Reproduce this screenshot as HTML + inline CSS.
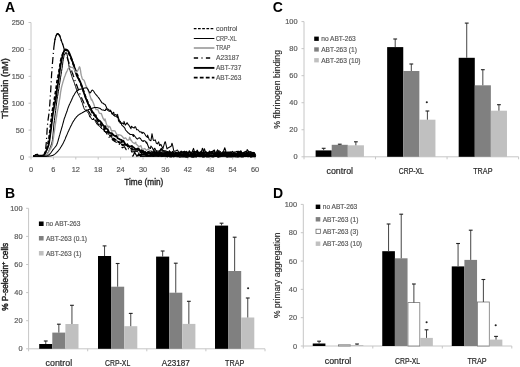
<!DOCTYPE html>
<html><head><meta charset="utf-8"><style>
html,body{margin:0;padding:0;background:#fff;width:520px;height:367px;overflow:hidden}
svg{display:block;will-change:transform}
text{font-family:"Liberation Sans", sans-serif}
</style></head><body>
<svg width="520" height="367" viewBox="0 0 520 367" font-family='"Liberation Sans", sans-serif'>
<rect width="520" height="367" fill="#fff"/>
<text x="5.00" y="12.02" font-size="14.0" fill="#000" font-weight="bold">A</text>
<text x="5.10" y="197.92" font-size="14.0" fill="#000" font-weight="bold">B</text>
<text x="272.80" y="12.02" font-size="14.0" fill="#000" font-weight="bold">C</text>
<text x="273.10" y="198.12" font-size="14.0" fill="#000" font-weight="bold">D</text>
<line x1="31.00" y1="157.00" x2="31.00" y2="22.50" stroke="#c6c6c6" stroke-width="1" />
<line x1="28.50" y1="157.00" x2="31.00" y2="157.00" stroke="#c6c6c6" stroke-width="1" />
<text x="24.00" y="159.65" font-size="7.4" fill="#595959" text-anchor="end" stroke="#595959" stroke-width="0.18">0</text>
<line x1="28.50" y1="130.10" x2="31.00" y2="130.10" stroke="#c6c6c6" stroke-width="1" />
<text x="24.00" y="132.75" font-size="7.4" fill="#595959" text-anchor="end" stroke="#595959" stroke-width="0.18">50</text>
<line x1="28.50" y1="103.20" x2="31.00" y2="103.20" stroke="#c6c6c6" stroke-width="1" />
<text x="24.00" y="105.85" font-size="7.4" fill="#595959" text-anchor="end" stroke="#595959" stroke-width="0.18">100</text>
<line x1="28.50" y1="76.30" x2="31.00" y2="76.30" stroke="#c6c6c6" stroke-width="1" />
<text x="24.00" y="78.95" font-size="7.4" fill="#595959" text-anchor="end" stroke="#595959" stroke-width="0.18">150</text>
<line x1="28.50" y1="49.40" x2="31.00" y2="49.40" stroke="#c6c6c6" stroke-width="1" />
<text x="24.00" y="52.05" font-size="7.4" fill="#595959" text-anchor="end" stroke="#595959" stroke-width="0.18">200</text>
<line x1="28.50" y1="22.50" x2="31.00" y2="22.50" stroke="#c6c6c6" stroke-width="1" />
<text x="24.00" y="25.15" font-size="7.4" fill="#595959" text-anchor="end" stroke="#595959" stroke-width="0.18">250</text>
<line x1="31.00" y1="157.00" x2="255.00" y2="157.00" stroke="#c6c6c6" stroke-width="1" />
<line x1="31.00" y1="157.00" x2="31.00" y2="159.50" stroke="#c6c6c6" stroke-width="1" />
<text x="31.00" y="172.15" font-size="7.4" fill="#595959" text-anchor="middle" stroke="#595959" stroke-width="0.18">0</text>
<line x1="53.40" y1="157.00" x2="53.40" y2="159.50" stroke="#c6c6c6" stroke-width="1" />
<text x="53.40" y="172.15" font-size="7.4" fill="#595959" text-anchor="middle" stroke="#595959" stroke-width="0.18">6</text>
<line x1="75.80" y1="157.00" x2="75.80" y2="159.50" stroke="#c6c6c6" stroke-width="1" />
<text x="75.80" y="172.15" font-size="7.4" fill="#595959" text-anchor="middle" stroke="#595959" stroke-width="0.18">12</text>
<line x1="98.20" y1="157.00" x2="98.20" y2="159.50" stroke="#c6c6c6" stroke-width="1" />
<text x="98.20" y="172.15" font-size="7.4" fill="#595959" text-anchor="middle" stroke="#595959" stroke-width="0.18">18</text>
<line x1="120.60" y1="157.00" x2="120.60" y2="159.50" stroke="#c6c6c6" stroke-width="1" />
<text x="120.60" y="172.15" font-size="7.4" fill="#595959" text-anchor="middle" stroke="#595959" stroke-width="0.18">24</text>
<line x1="143.00" y1="157.00" x2="143.00" y2="159.50" stroke="#c6c6c6" stroke-width="1" />
<text x="143.00" y="172.15" font-size="7.4" fill="#595959" text-anchor="middle" stroke="#595959" stroke-width="0.18">30</text>
<line x1="165.40" y1="157.00" x2="165.40" y2="159.50" stroke="#c6c6c6" stroke-width="1" />
<text x="165.40" y="172.15" font-size="7.4" fill="#595959" text-anchor="middle" stroke="#595959" stroke-width="0.18">36</text>
<line x1="187.80" y1="157.00" x2="187.80" y2="159.50" stroke="#c6c6c6" stroke-width="1" />
<text x="187.80" y="172.15" font-size="7.4" fill="#595959" text-anchor="middle" stroke="#595959" stroke-width="0.18">42</text>
<line x1="210.20" y1="157.00" x2="210.20" y2="159.50" stroke="#c6c6c6" stroke-width="1" />
<text x="210.20" y="172.15" font-size="7.4" fill="#595959" text-anchor="middle" stroke="#595959" stroke-width="0.18">48</text>
<line x1="232.60" y1="157.00" x2="232.60" y2="159.50" stroke="#c6c6c6" stroke-width="1" />
<text x="232.60" y="172.15" font-size="7.4" fill="#595959" text-anchor="middle" stroke="#595959" stroke-width="0.18">54</text>
<line x1="255.00" y1="157.00" x2="255.00" y2="159.50" stroke="#c6c6c6" stroke-width="1" />
<text x="255.00" y="172.15" font-size="7.4" fill="#595959" text-anchor="middle" stroke="#595959" stroke-width="0.18">60</text>
<text x="143.8" y="184.6" font-size="8.25" fill="#222" text-anchor="middle" stroke="#222" stroke-width="0.32">Time (min)</text>
<text transform="translate(7.9,88.4) rotate(-90) scale(1.04,1)" font-size="8.9" fill="#222" text-anchor="middle" stroke="#222" stroke-width="0.38">Thrombin (nM)</text>
<line x1="193.80" y1="28.70" x2="214.40" y2="28.70" stroke="#000" stroke-width="1.25" stroke-dasharray="2.7,1.5"/>
<text transform="translate(216.00,30.97) scale(1.039,1.000)" font-size="6.9" fill="#595959" stroke="#595959" stroke-width="0.18">control</text>
<line x1="193.80" y1="38.50" x2="214.40" y2="38.50" stroke="#000" stroke-width="1.0" />
<text transform="translate(216.00,40.67) scale(0.816,1.000)" font-size="6.9" fill="#595959" stroke="#595959" stroke-width="0.18">CRP-XL</text>
<line x1="193.80" y1="48.00" x2="214.40" y2="48.00" stroke="#a4a4a4" stroke-width="1.8" />
<text transform="translate(216.00,50.47) scale(0.788,1.000)" font-size="6.9" fill="#595959" stroke="#595959" stroke-width="0.18">TRAP</text>
<line x1="193.80" y1="58.00" x2="211.00" y2="58.00" stroke="#000" stroke-width="1.4" stroke-dasharray="4.3,3.4,1.0,3.4"/>
<text transform="translate(216.00,60.47) scale(0.974,1.000)" font-size="6.9" fill="#595959" stroke="#595959" stroke-width="0.18">A23187</text>
<line x1="193.80" y1="67.90" x2="214.40" y2="67.90" stroke="#000" stroke-width="1.9" />
<text transform="translate(216.00,70.07) scale(0.946,1.000)" font-size="6.9" fill="#595959" stroke="#595959" stroke-width="0.18">ABT-737</text>
<line x1="193.80" y1="77.60" x2="214.40" y2="77.60" stroke="#000" stroke-width="1.9" stroke-dasharray="3.8,2.2"/>
<text transform="translate(216.00,79.87) scale(0.946,1.000)" font-size="6.9" fill="#595959" stroke="#595959" stroke-width="0.18">ABT-263</text>
<polyline points="33.2,156.2 33.6,156.2 34.1,156.2 34.5,156.2 35.0,156.2 35.5,156.2 35.9,156.2 36.4,156.2 36.8,156.2 37.2,156.2 37.7,156.2 38.1,156.2 38.6,156.2 39.0,156.2 39.5,156.2 40.0,156.2 40.4,156.2 40.9,156.2 41.3,156.2 41.8,156.2 42.2,156.2 42.6,156.2 43.1,156.2 43.5,156.0 44.0,155.6 44.5,155.1 44.9,153.8 45.4,151.1 45.8,147.6 46.2,143.5 46.7,137.0 47.1,129.6 47.6,124.0 48.0,120.1 48.5,116.8 49.0,113.3 49.4,108.9 49.9,103.0 50.3,96.2 50.8,89.2 51.2,81.7 51.6,74.2 52.1,68.0 52.5,62.6 53.0,57.0 53.5,51.4 53.9,46.8 54.4,43.4 54.8,40.6 55.2,38.4 55.7,36.9 56.1,35.7 56.6,34.7 57.0,34.0 57.5,33.7 58.0,33.8 58.4,34.2 58.9,34.7 59.3,35.2 59.8,35.9 60.2,37.0 60.6,38.4 61.1,39.8 61.5,41.1 62.0,42.4 62.5,43.6 62.9,44.9 63.4,46.3 63.8,47.8 64.2,49.2 64.7,50.6 65.2,51.9 65.6,53.1 66.0,54.3 66.5,55.6 67.0,56.9 67.4,58.2 67.8,59.5 68.3,60.9 68.8,62.2 69.2,63.6 69.7,65.0 70.1,66.3 70.5,67.6 71.0,68.9 71.5,70.2 71.9,71.5 72.3,72.7 72.8,74.0 73.2,75.3 73.7,76.6 74.2,77.9 74.6,79.2 75.0,80.5 75.5,81.8 76.0,83.1 76.4,84.3 76.8,85.6 77.3,86.8 77.8,88.1 78.2,89.3 78.7,90.5 79.1,91.7 79.5,92.9 80.0,94.1 80.5,95.2 80.9,96.3 81.3,97.3 81.8,98.3 82.2,99.3 82.7,100.3 83.2,101.3 83.6,102.2 84.0,103.1 84.5,104.0 85.0,104.9 85.4,105.8 85.8,106.6 86.3,107.4 86.8,108.2 87.2,109.0 87.7,109.7 88.1,110.5 88.5,111.2 89.0,111.9 89.5,112.6 89.9,113.3 90.3,114.0 90.8,114.7 91.2,115.4 91.7,116.1 92.0,116.2 93.4,118.3 95.0,120.9 95.1,120.0 96.4,121.0 98.5,124.7 99.8,124.4 100.0,126.1 101.1,127.1 102.6,127.0 104.5,131.5 105.8,131.8 107.6,135.1 107.7,136.1 109.0,137.2 110.9,136.9 112.8,140.1 113.1,139.8 114.4,141.2 115.8,142.0 117.4,142.6 118.5,142.7 119.0,144.0 120.7,144.9 122.3,147.8 124.5,146.7 126.2,149.6 126.2,148.4 127.7,149.1 129.2,148.4 130.4,149.0 131.9,152.0 134.0,151.7 135.0,150.6 135.5,151.9 137.3,152.6 138.5,153.3 140.1,151.4 141.6,152.8 142.8,151.9 144.5,153.8 146.2,155.2 147.7,152.8 149.9,153.3 150.0,154.2 151.9,153.3 153.2,156.2 155.2,153.7 156.7,155.4 158.8,155.8 160.3,154.6 162.1,154.5 163.3,154.9 164.8,154.8 166.3,156.2 167.7,154.8 169.4,156.3 170.0,155.6 171.0,155.1 173.0,155.8 174.8,155.5 176.9,156.6 178.6,156.6 180.7,156.6 182.4,156.6 183.8,156.0 185.0,156.6 187.0,156.6 188.5,155.4 190.5,156.5 191.8,156.6 193.2,155.5 194.8,156.6 196.8,156.6 198.1,156.6 199.4,156.1 201.0,155.4 202.6,156.6 204.1,156.6 206.2,156.4 208.4,156.5 210.6,156.6 212.0,155.4 213.5,156.6 215.4,155.2 217.3,156.6 219.1,156.6 220.4,155.0 221.8,154.9 223.4,156.6 225.2,155.6 226.9,156.5 229.1,156.3 230.9,155.6 232.6,155.1 234.4,155.6 236.3,155.0 237.8,156.6 239.7,156.0 241.3,156.1 243.3,156.6 244.6,156.6 246.7,156.0 248.1,155.9 249.4,156.6 251.6,156.6 253.3,155.1 255.1,156.6 255.4,155.9" fill="none" stroke="#000" stroke-width="1.25" stroke-linejoin="round" stroke-dasharray="7,3,1.2,3" stroke-dashoffset="10.39"/>
<polyline points="54.4,43.4 54.8,40.6 55.2,38.4 55.7,36.9 56.1,35.7 56.6,34.7 57.0,34.0 57.5,33.7 58.0,33.8 58.4,34.2 58.9,34.7 59.3,35.2 59.8,35.9 60.2,37.0 60.6,38.4 61.1,39.8 61.5,41.1 62.0,42.4 62.5,43.6 62.9,44.9" fill="none" stroke="#000" stroke-width="1.25" stroke-linejoin="round"/>
<polyline points="33.2,156.1 33.6,156.0 34.1,156.0 34.5,156.0 35.0,156.0 35.5,155.9 35.9,155.9 36.4,155.9 36.8,155.9 37.2,155.8 37.7,155.8 38.1,155.8 38.6,155.8 39.0,155.8 39.5,155.7 40.0,155.7 40.4,155.7 40.9,155.7 41.3,155.7 41.8,155.6 42.2,155.6 42.6,155.6 43.1,155.5 43.5,155.5 44.0,155.2 44.5,154.6 44.9,153.8 45.4,152.8 45.8,151.9 46.2,151.0 46.7,150.1 47.1,149.2 47.6,148.1 48.0,146.8 48.5,145.4 49.0,143.4 49.4,140.7 49.9,137.6 50.3,134.2 50.8,130.9 51.2,127.4 51.6,123.8 52.1,120.3 52.5,116.7 53.0,113.3 53.5,110.3 53.9,107.8 54.4,105.6 54.8,103.6 55.2,101.5 55.7,99.2 56.1,96.3 56.6,92.7 57.0,89.1 57.5,86.1 58.0,83.4 58.4,80.7 58.9,77.5 59.3,73.9 59.8,70.5 60.2,67.6 60.6,65.0 61.1,62.5 61.5,60.2 62.0,58.0 62.5,55.9 62.9,54.1 63.4,52.8 63.8,51.8 64.2,50.8 64.7,50.0 65.2,49.5 65.6,49.4 66.0,49.5 66.5,49.7 67.0,49.9 67.4,50.2 67.8,50.6 68.3,51.3 68.8,52.1 69.2,53.0 69.7,54.0 70.1,55.0 70.5,56.0 71.0,57.2 71.5,58.5 71.9,59.7 72.3,61.0 72.8,62.2 73.2,63.6 73.7,64.9 74.2,66.5 74.6,68.3 75.0,70.1 75.5,71.8 76.0,73.2 76.4,74.5 76.8,75.6 77.3,76.6 77.8,77.5 78.2,78.3 78.7,79.0 79.1,79.7 79.5,80.6 80.0,81.5 80.5,82.5 80.9,83.5 81.3,84.6 81.8,85.9 82.2,87.3 82.7,88.7 83.2,90.2 83.6,91.6 84.0,93.1 84.5,94.4 85.0,95.7 85.4,96.9 85.8,98.1 86.3,99.3 86.8,100.4 87.2,101.5 87.7,102.5 88.0,103.7 89.3,106.2 89.7,106.5 91.7,110.7 92.3,112.6 93.2,112.3 94.5,114.9 95.8,115.3 96.0,116.9 98.0,119.8 99.8,120.9 100.0,121.0 101.3,122.6 102.8,124.9 104.6,126.6 105.5,126.2 105.9,128.5 107.7,129.3 109.0,132.4 110.3,133.0 110.9,133.2 111.8,133.1 113.7,135.3 115.7,136.4 116.4,135.4 117.7,138.3 119.7,139.3 121.7,140.1 121.8,142.2 123.3,140.8 125.3,144.3 126.6,145.3 127.3,144.1 128.7,146.4 130.7,146.3 132.0,146.0 132.7,147.1 133.3,147.1 135.2,148.8 136.8,149.1 138.3,148.4 140.0,150.3 140.5,152.2 141.9,149.9 144.0,151.7 145.2,152.8 146.9,152.9 148.7,152.3 150.0,152.4 150.2,154.2 152.1,153.7 153.7,152.9 155.0,154.2 156.9,153.1 158.5,154.1 159.8,154.8 161.7,155.7 163.5,155.2 164.8,155.5 165.0,153.7 166.4,154.8 168.1,154.3 170.0,154.3 172.1,155.3 173.8,156.6 175.5,155.3 176.9,155.8 178.4,156.0 179.9,156.6 181.5,156.6 183.1,156.5 184.5,156.6 185.0,156.6 186.6,156.6 187.9,156.6 189.9,155.3 191.3,154.7 193.5,156.6 195.2,156.1 196.8,154.8 199.0,154.9 200.8,155.7 202.7,156.6 204.4,156.5 206.6,155.0 208.4,156.0 210.5,156.2 212.5,156.6 213.7,156.0 215.4,156.0 217.3,154.6 218.7,156.6 219.9,155.2 221.9,155.8 223.6,154.8 225.3,155.5 226.5,156.6 228.0,156.6 230.0,156.6 231.9,156.3 233.4,156.4 234.9,156.1 236.3,156.6 237.8,156.6 239.8,155.7 241.7,156.3 243.2,156.6 245.1,155.0 247.0,155.5 248.6,154.8 250.7,156.6 252.8,156.2 254.9,154.8 255.4,156.3" fill="none" stroke="#000" stroke-width="1.8" stroke-linejoin="round"/>
<polyline points="33.2,156.2 33.6,156.2 34.1,156.2 34.5,156.2 35.0,156.2 35.5,156.2 35.9,156.2 36.4,156.2 36.8,156.2 37.2,156.2 37.7,156.2 38.1,156.2 38.6,156.2 39.0,156.2 39.5,156.2 40.0,156.2 40.4,156.2 40.9,156.1 41.3,156.1 41.8,155.9 42.2,155.8 42.6,155.6 43.1,155.5 43.5,155.1 44.0,154.6 44.5,153.9 44.9,153.1 45.4,152.3 45.8,151.4 46.2,150.3 46.7,149.0 47.1,147.5 47.6,145.8 48.0,143.8 48.5,141.3 49.0,138.3 49.4,135.0 49.9,131.6 50.3,127.6 50.8,123.8 51.2,120.2 51.6,116.7 52.1,113.5 52.5,110.3 53.0,107.4 53.5,104.7 53.9,102.1 54.4,99.5 54.8,96.8 55.2,94.0 55.7,91.3 56.1,88.3 56.6,85.1 57.0,81.7 57.5,78.8 58.0,76.5 58.4,74.4 58.9,71.9 59.3,69.2 59.8,66.5 60.2,63.8 60.6,61.1 61.1,58.9 61.5,57.2 62.0,55.8 62.5,54.5 62.9,53.5 63.4,52.5 63.8,51.5 64.2,50.6 64.7,50.1 65.2,50.0 65.6,50.1 66.0,50.3 66.5,50.5 67.0,50.7 67.4,51.2 67.8,51.9 68.3,52.7 68.8,53.5 69.2,54.4 69.7,55.3 70.1,56.2 70.5,57.2 71.0,58.3 71.5,59.4 71.9,60.5 72.3,61.6 72.8,62.8 73.2,63.9 73.7,65.1 74.2,66.4 74.6,67.6 75.0,68.8 75.5,70.0 76.0,71.2 76.4,72.3 76.8,73.5 77.3,74.6 77.8,75.8 78.2,76.9 78.7,78.1 79.1,79.3 79.5,80.5 80.0,81.7 80.5,82.9 80.9,84.2 81.3,85.5 81.8,86.7 82.2,87.9 82.7,89.2 83.2,90.4 83.6,91.6 84.0,92.9 84.5,94.1 85.0,95.3 85.4,96.5 85.8,97.6 86.3,98.7 86.8,99.8 87.2,100.9 87.7,102.0 88.0,102.7 89.0,104.4 89.8,107.2 91.9,111.7 93.0,113.6 93.4,114.8 94.8,115.7 96.6,118.5 98.0,121.1 98.3,121.1 100.2,123.4 101.4,125.8 102.8,127.7 104.0,127.5 104.4,129.2 105.7,130.1 107.8,132.0 109.2,132.8 110.0,135.7 111.3,135.0 112.7,138.3 114.3,138.8 116.0,140.5 116.5,141.0 118.5,142.0 120.1,142.3 121.8,142.7 122.0,144.4 123.2,145.0 125.1,145.5 127.2,145.1 128.0,146.5 129.1,146.4 131.0,148.5 132.5,149.7 134.1,150.1 135.0,150.6 135.6,149.5 137.3,149.8 139.5,150.4 140.8,151.8 142.4,152.1 144.2,151.0 145.0,151.5 145.6,153.9 147.6,152.3 149.2,152.3 150.9,153.5 152.6,155.5 154.2,153.2 155.7,153.9 157.2,154.4 159.1,155.0 160.0,156.3 160.7,155.5 162.2,156.0 163.9,154.5 165.9,154.6 167.2,156.6 168.6,155.5 169.9,156.6 171.5,156.6 173.3,155.6 175.1,155.5 176.8,155.9 178.9,155.3 180.0,156.6 180.5,155.8 182.3,156.0 184.3,155.8 186.1,156.6 187.8,156.6 189.9,155.5 191.4,156.6 192.8,156.6 194.4,156.2 196.4,156.6 197.8,155.7 199.5,155.5 200.8,155.1 202.1,155.6 203.5,155.3 205.4,156.2 206.8,156.6 208.5,156.6 209.8,156.4 211.9,155.3 213.2,156.2 214.8,156.6 216.7,155.3 218.9,156.6 220.3,156.5 221.9,155.9 223.6,154.9 225.4,155.5 227.2,156.6 229.1,155.7 230.5,156.4 231.8,156.5 233.6,154.9 235.3,154.9 237.4,156.2 238.8,156.4 240.3,156.6 242.5,156.1 244.6,155.5 245.9,154.8 248.1,156.4 249.7,156.2 251.6,156.2 253.3,155.6 255.2,155.2 255.4,154.6" fill="none" stroke="#000" stroke-width="1.8" stroke-linejoin="round" stroke-dasharray="3.6,2.0"/>
<polyline points="33.2,156.2 33.6,156.2 34.1,156.2 34.5,156.2 35.0,156.2 35.5,156.2 35.9,156.2 36.4,156.2 36.8,156.2 37.2,156.2 37.7,156.2 38.1,156.2 38.6,156.2 39.0,156.2 39.5,156.2 40.0,156.2 40.4,156.2 40.9,156.2 41.3,156.2 41.8,156.2 42.2,156.2 42.6,156.2 43.1,156.2 43.5,156.2 44.0,156.2 44.5,156.1 44.9,155.9 45.4,155.6 45.8,155.2 46.2,154.8 46.7,154.3 47.1,153.8 47.6,153.2 48.0,152.4 48.5,151.5 49.0,150.5 49.4,149.5 49.9,148.4 50.3,147.3 50.8,146.2 51.2,145.0 51.6,143.6 52.1,141.9 52.5,139.7 53.0,135.1 53.5,129.0 53.9,124.1 54.4,120.4 54.8,117.1 55.2,113.9 55.7,110.4 56.1,106.7 56.6,103.0 57.0,99.7 57.5,96.7 58.0,93.9 58.4,91.2 58.9,88.4 59.3,85.6 59.8,82.8 60.2,80.0 60.6,77.2 61.1,74.5 61.5,71.6 62.0,68.6 62.5,65.2 62.9,61.8 63.4,59.2 63.8,56.9 64.2,55.1 64.7,54.0 65.2,53.2 65.6,52.5 66.0,52.2 66.5,52.7 67.0,54.3 67.4,56.1 67.8,58.5 68.3,61.6 68.8,64.8 69.2,67.1 69.7,69.0 70.1,70.6 70.5,72.1 71.0,73.6 71.5,75.1 71.9,76.4 72.3,77.7 72.8,78.9 73.2,80.1 73.7,81.2 74.2,82.5 74.6,83.7 75.0,85.0 75.5,86.4 76.0,87.9 76.4,89.3 76.8,90.6 77.3,91.9 77.8,93.1 78.2,94.1 78.7,95.0 79.1,95.8 79.5,96.6 80.0,97.4 80.5,98.3 80.9,99.3 81.3,100.5 81.8,102.0 82.0,102.1 82.4,103.3 83.7,107.5 83.9,108.2 85.5,110.6 86.2,109.6 86.9,111.4 88.5,113.2 90.0,117.2 90.1,116.3 91.9,119.5 94.0,119.4 95.0,120.6 95.5,121.7 97.5,124.9 98.8,125.8 100.0,126.3 100.7,127.9 102.4,129.1 104.1,129.6 105.7,132.6 106.0,131.6 107.3,132.4 109.3,135.1 110.6,137.0 112.0,137.3 112.8,138.9 114.4,140.3 116.1,139.6 117.9,141.7 118.0,142.2 119.3,143.4 120.7,143.2 122.5,146.0 123.7,144.2 125.0,144.9 125.1,145.0 126.9,145.5 128.4,146.3 130.4,148.2 131.9,147.9 133.0,149.6 133.4,149.4 135.1,149.3 137.0,152.1 138.9,150.3 140.5,151.0 142.0,154.0 142.6,153.8 143.8,153.0 145.3,152.6 146.6,154.4 147.9,153.5 149.8,153.6 151.8,153.3 153.0,156.2 154.7,156.0 155.0,155.5 156.4,154.2 158.3,156.6 159.9,154.6 161.8,156.6 163.7,155.8 165.2,155.4 166.7,154.7 168.1,156.6 169.8,154.7 171.2,156.0 173.2,154.7 174.7,155.3 175.0,156.1 176.9,154.8 178.8,155.5 180.4,156.4 182.5,155.6 184.5,154.9 186.2,155.7 187.8,156.6 189.1,156.6 191.0,156.6 193.1,156.6 195.2,156.5 196.8,156.6 198.4,155.1 199.8,156.6 201.2,156.6 202.9,156.6 204.7,155.5 206.0,156.4 207.5,155.6 209.2,156.6 210.7,155.6 212.7,156.4 214.0,154.9 215.4,155.1 217.5,156.6 219.2,155.2 221.4,155.4 223.1,155.2 224.8,155.6 226.8,154.9 228.9,155.2 231.1,156.5 233.0,155.2 234.8,155.1 236.9,155.1 239.0,156.6 240.9,156.3 242.6,156.6 244.5,156.4 246.2,156.3 247.8,156.5 249.9,155.9 251.2,156.6 252.5,155.7 254.1,156.6 255.4,156.0" fill="none" stroke="#000" stroke-width="1.0" stroke-linejoin="round"/>
<polyline points="33.2,156.2 33.6,156.2 34.1,156.2 34.5,156.2 35.0,156.2 35.5,156.2 35.9,156.2 36.4,156.2 36.8,156.2 37.2,156.2 37.7,156.2 38.1,156.2 38.6,156.2 39.0,156.2 39.5,156.2 40.0,156.2 40.4,156.2 40.9,156.2 41.3,156.2 41.8,156.2 42.2,156.2 42.6,156.2 43.1,156.2 43.5,156.2 44.0,156.2 44.5,156.2 44.9,156.2 45.4,156.1 45.8,155.7 46.2,155.3 46.7,154.8 47.1,154.2 47.6,153.6 48.0,152.9 48.5,152.2 49.0,151.4 49.4,150.7 49.9,149.9 50.3,149.2 50.8,148.5 51.2,147.7 51.6,146.8 52.1,145.6 52.5,143.9 53.0,141.0 53.5,137.5 53.9,134.3 54.4,131.3 54.8,128.3 55.2,125.3 55.7,122.4 56.1,119.5 56.6,116.6 57.0,113.7 57.5,111.0 58.0,108.4 58.4,105.9 58.9,103.5 59.3,101.0 59.8,98.3 60.2,95.3 60.6,92.1 61.1,89.5 61.5,87.3 62.0,85.4 62.5,83.7 62.9,82.1 63.4,80.6 63.8,79.2 64.2,77.9 64.7,76.6 65.2,75.4 65.6,74.2 66.0,73.1 66.5,72.1 67.0,71.1 67.4,70.2 67.8,69.2 68.3,68.5 68.8,68.1 69.2,67.8 69.7,67.6 70.1,67.4 70.5,67.4 71.0,67.4 71.5,67.4 71.9,67.4 72.3,67.4 72.8,67.6 73.2,68.0 73.7,68.6 74.2,69.2 74.6,70.0 75.0,71.0 75.5,71.8 76.0,72.4 76.4,72.4 76.8,72.0 77.3,71.3 77.8,70.4 78.2,69.6 78.7,68.5 79.1,67.4 79.5,66.8 80.0,67.8 80.5,70.4 80.9,73.3 81.3,75.4 81.8,77.1 82.2,78.5 82.7,79.4 83.2,79.7 83.6,79.9 84.0,80.4 84.5,81.4 85.0,82.7 85.4,84.1 85.8,85.4 86.3,86.4 86.8,87.4 87.2,88.2 87.7,89.1 88.0,89.8 88.1,90.2 89.3,93.6 91.4,100.0 91.6,99.1 93.5,103.3 94.8,107.0 96.1,109.7 97.0,109.1 98.0,110.0 99.2,113.1 101.0,113.7 101.3,113.5 103.1,118.4 104.5,120.7 105.0,118.9 106.5,124.3 108.4,127.8 108.7,126.2 110.2,127.1 111.5,131.0 113.0,130.7 114.9,130.8 116.4,133.7 118.3,136.0 118.5,134.7 119.6,134.9 121.0,135.3 122.3,136.5 123.8,138.4 124.0,138.5 125.6,137.9 127.3,140.1 128.5,140.1 129.2,139.4 129.6,137.1 131.0,140.6 131.0,139.9 132.4,142.2 134.4,143.5 135.8,142.2 136.0,144.0 137.2,145.1 138.9,146.8 140.9,145.7 142.0,148.9 142.8,149.4 144.7,148.5 146.4,150.4 148.5,148.7 149.7,151.5 150.0,150.7 151.6,150.8 153.2,152.7 154.8,152.4 156.7,151.2 158.3,154.2 160.0,151.9 160.5,154.3 162.5,151.7 163.8,154.0 165.4,155.2 167.5,155.2 169.3,153.4 171.0,153.8 172.9,155.4 174.3,154.6 175.0,154.6 176.0,156.6 178.2,154.2 179.6,156.0 181.4,156.6 183.3,154.6 185.5,155.4 186.8,156.4 188.1,155.6 190.0,155.6 190.0,156.4 191.7,156.6 193.0,155.3 195.2,156.6 196.9,155.5 198.6,156.6 200.6,156.6 202.1,155.6 204.1,155.8 205.3,156.6 207.4,155.4 208.8,155.7 210.3,156.6 211.9,156.6 214.1,156.6 216.2,154.5 217.5,156.1 218.8,154.9 220.7,156.4 222.1,156.6 223.7,156.6 225.7,156.3 227.4,156.6 229.6,156.6 230.9,156.6 232.6,156.6 234.5,156.6 236.4,156.6 237.9,154.9 239.9,155.2 241.8,154.7 243.3,155.0 245.1,155.5 246.6,155.8 248.3,154.9 250.1,156.2 252.0,154.8 253.8,156.2 255.4,155.0 255.5,155.6" fill="none" stroke="#9c9c9c" stroke-width="1.35" stroke-linejoin="round"/>
<polyline points="33.2,156.2 33.6,156.2 34.1,156.2 34.5,156.2 35.0,156.2 35.5,156.2 35.9,156.2 36.4,156.2 36.8,156.2 37.2,156.2 37.7,156.2 38.1,156.2 38.6,156.2 39.0,156.2 39.5,156.2 40.0,156.2 40.4,156.2 40.9,156.2 41.3,156.2 41.8,156.2 42.2,156.2 42.6,156.2 43.1,156.2 43.5,156.2 44.0,156.2 44.5,156.2 44.9,156.2 45.4,156.2 45.8,156.2 46.2,156.2 46.7,156.1 47.1,155.9 47.6,155.6 48.0,155.3 48.5,155.0 49.0,154.7 49.4,154.3 49.9,153.8 50.3,153.3 50.8,152.8 51.2,152.3 51.6,151.7 52.1,151.0 52.5,150.4 53.0,149.7 53.5,149.1 53.9,148.5 54.4,148.0 54.8,147.5 55.2,147.0 55.7,146.4 56.1,145.8 56.6,145.0 57.0,144.0 57.5,142.7 58.0,141.1 58.4,139.5 58.9,137.8 59.3,136.2 59.8,134.7 60.2,133.2 60.6,131.6 61.1,130.1 61.5,128.6 62.0,127.0 62.5,125.4 62.9,123.7 63.4,122.0 63.8,120.3 64.2,118.8 64.7,117.5 65.2,116.2 65.6,115.0 66.0,113.8 66.5,112.6 67.0,111.3 67.4,109.9 67.8,108.6 68.3,107.3 68.8,106.1 69.2,105.0 69.7,104.0 70.1,103.1 70.5,102.2 71.0,101.2 71.5,100.2 71.9,99.2 72.3,98.2 72.8,97.3 73.2,96.3 73.7,95.5 74.2,94.7 74.6,93.9 75.0,93.2 75.5,92.5 76.0,91.9 76.4,91.4 76.8,90.9 77.3,90.5 77.8,90.1 78.2,89.8 78.7,89.5 79.1,89.4 79.5,89.3 80.0,89.2 80.5,89.2 80.9,89.1 81.3,89.0 81.8,89.0 82.2,88.8 82.7,88.6 83.2,88.5 83.6,88.3 84.0,88.2 84.5,88.1 85.0,88.0 85.4,87.9 85.8,87.8 86.3,87.8 86.8,88.0 87.2,88.5 87.7,89.1 88.1,89.6 88.5,90.5 89.0,91.6 89.5,92.5 89.9,93.0 90.3,92.8 90.8,92.2 91.2,91.4 91.7,90.6 92.2,90.1 92.6,90.2 93.0,90.5 93.5,91.0 94.0,91.7 94.4,92.4 94.8,93.1 95.3,93.8 95.8,94.3 96.2,94.9 96.7,95.4 97.1,95.9 97.5,96.5 98.0,97.0 98.5,97.6 98.9,98.1 99.3,98.7 99.8,99.3 100.0,99.8 101.5,102.1 101.8,102.7 103.7,103.4 103.7,103.9 105.1,104.4 106.2,106.7 107.1,109.0 107.8,109.0 108.7,109.7 110.2,110.6 110.3,110.1 112.1,114.1 113.7,112.2 114.4,115.9 115.8,116.2 117.5,117.6 117.6,114.2 118.5,120.7 119.1,121.8 120.3,121.2 121.0,123.5 122.2,123.0 123.7,124.2 124.0,121.3 125.3,125.1 127.2,122.7 127.3,123.3 128.8,125.1 131.0,128.7 131.3,126.3 132.6,127.2 134.2,128.1 134.5,127.0 135.5,126.8 136.7,129.8 137.8,129.8 138.0,129.7 139.8,132.0 141.1,131.8 142.2,133.5 142.8,132.2 144.2,133.1 146.1,136.2 147.4,137.4 147.6,135.1 149.3,139.9 150.9,140.8 151.5,137.1 152.0,133.7 153.1,139.4 153.6,140.4 155.3,139.9 156.4,143.4 157.3,143.9 158.7,141.9 159.6,145.6 160.8,144.3 163.0,148.7 163.2,147.7 164.9,141.9 165.4,141.8 167.0,149.0 167.1,148.5 168.9,147.5 171.1,146.3 172.0,143.2 172.7,145.7 174.0,152.2 174.0,151.2 175.4,151.1 177.4,150.0 179.5,153.5 180.0,151.9 181.1,152.9 183.0,152.8 185.1,153.6 186.6,156.6 188.1,155.1 190.0,156.6 190.3,154.7 191.8,156.6 194.0,156.6 195.4,156.6 197.6,156.1 198.8,155.3 200.4,154.7 202.0,156.5 203.3,156.6 205.3,156.2 207.4,156.6 209.0,155.3 210.9,156.3 212.4,156.6 213.9,156.6 215.8,156.1 217.5,156.6 218.8,156.6 221.0,156.6 223.2,155.3 225.0,154.4 227.1,156.6 228.6,154.8 230.3,156.6 232.1,155.7 233.4,156.6 234.6,155.5 236.3,154.6 237.7,156.5 239.7,156.6 241.5,156.6 243.1,155.7 244.8,156.6 246.7,156.1 248.0,154.5 250.0,155.5 252.0,154.9 253.4,154.7 254.8,155.1 255.4,156.5" fill="none" stroke="#000" stroke-width="1.05" stroke-linejoin="round"/>
<polyline points="33.2,156.2 33.6,156.2 34.1,156.2 34.5,156.2 35.0,156.2 35.5,156.2 35.9,156.2 36.4,156.2 36.8,156.2 37.2,156.2 37.7,156.2 38.1,156.2 38.6,156.2 39.0,156.2 39.5,156.2 40.0,156.2 40.4,156.2 40.9,156.2 41.3,156.2 41.8,156.2 42.2,156.2 42.6,156.2 43.1,156.2 43.5,156.2 44.0,156.2 44.5,156.2 44.9,156.2 45.4,156.2 45.8,156.2 46.2,156.2 46.7,156.2 47.1,156.2 47.6,156.2 48.0,156.2 48.5,156.2 49.0,156.2 49.4,156.1 49.9,156.0 50.3,156.0 50.8,155.9 51.2,155.8 51.6,155.7 52.1,155.6 52.5,155.4 53.0,155.2 53.5,155.0 53.9,154.7 54.4,154.4 54.8,154.1 55.2,153.8 55.7,153.4 56.1,153.0 56.6,152.6 57.0,152.1 57.5,151.6 58.0,151.1 58.4,150.5 58.9,150.0 59.3,149.4 59.8,148.8 60.2,148.2 60.6,147.5 61.1,146.8 61.5,146.1 62.0,145.3 62.5,144.5 62.9,143.7 63.4,142.8 63.8,141.9 64.2,141.0 64.7,140.0 65.2,138.9 65.6,137.8 66.0,136.8 66.5,135.7 67.0,134.6 67.4,133.6 67.8,132.6 68.3,131.5 68.8,130.5 69.2,129.5 69.7,128.5 70.1,127.6 70.5,126.7 71.0,125.8 71.5,124.9 71.9,124.0 72.3,123.1 72.8,122.3 73.2,121.6 73.7,120.8 74.2,120.1 74.6,119.4 75.0,118.7 75.5,118.1 76.0,117.6 76.4,117.0 76.8,116.5 77.3,116.1 77.8,115.6 78.2,115.2 78.7,114.9 79.1,114.5 79.5,114.2 80.0,114.0 80.5,113.7 80.9,113.5 81.3,113.2 81.8,113.0 82.2,112.8 82.7,112.5 83.2,112.3 83.6,112.0 84.0,111.8 84.5,111.6 85.0,111.3 85.4,111.1 85.8,110.9 86.3,110.6 86.8,110.4 87.2,110.2 87.7,110.0 88.1,109.8 88.5,109.6 89.0,109.4 89.5,109.2 89.9,109.0 90.3,108.9 90.8,108.7 91.2,108.5 91.7,108.4 92.2,108.2 92.6,108.1 93.0,108.0 93.5,107.8 94.0,107.7 94.4,107.6 94.8,107.5 95.3,107.4 95.8,107.4 96.2,107.4 96.7,107.5 97.1,107.5 97.5,107.6 98.0,107.7 98.5,107.9 98.9,108.0 99.3,108.2 99.8,108.3 100.2,108.5 100.7,108.9 101.2,109.3 101.6,109.7 102.0,109.9 102.5,109.9 103.0,109.9 103.4,109.9 103.8,109.9 104.0,110.4 105.4,110.5 105.7,109.1 107.0,109.3 107.1,109.8 108.6,110.9 110.3,111.5 110.6,110.5 112.5,114.0 113.9,115.4 114.4,114.9 116.0,114.6 117.6,116.4 118.0,116.9 119.3,120.2 120.0,122.9 121.1,123.0 121.8,125.1 122.7,125.9 124.0,127.2 125.0,128.3 125.5,130.0 127.3,131.9 128.4,133.1 128.7,133.2 130.2,134.5 132.1,134.4 133.5,136.4 133.5,134.6 135.6,137.3 137.3,139.1 138.9,137.9 139.2,137.8 140.4,138.5 141.7,140.5 143.3,141.5 143.5,140.7 144.9,140.8 146.5,143.1 146.6,142.0 148.7,147.5 150.5,148.5 150.9,146.0 152.1,147.5 153.4,149.9 154.8,148.2 156.0,150.7 156.2,151.0 158.4,150.9 160.0,151.2 160.3,150.2 161.7,150.1 162.9,151.2 165.1,150.7 167.3,151.5 169.0,153.8 170.0,152.6 170.5,152.6 172.2,155.4 174.3,154.7 175.8,154.2 177.7,154.5 179.4,152.8 181.2,156.2 183.3,154.5 184.5,154.2 185.0,153.8 186.0,156.0 187.3,155.4 188.7,155.4 190.8,155.4 192.0,156.6 194.2,156.6 195.7,155.8 197.5,154.6 199.2,156.6 200.0,155.3 200.5,156.6 202.0,154.4 203.4,156.6 204.9,156.1 206.1,156.6 207.9,155.2 209.3,156.5 211.2,156.6 213.0,155.6 215.0,154.6 217.2,156.6 218.7,156.6 220.5,154.4 222.5,155.7 224.0,154.9 225.8,155.9 227.7,156.6 229.8,156.4 231.8,155.9 233.4,156.1 235.2,156.6 236.7,154.7 238.6,156.1 240.8,156.6 242.0,156.6 243.9,156.2 245.8,156.6 247.4,155.6 248.6,154.7 250.1,156.6 252.2,156.6 254.2,156.6 255.4,156.6" fill="none" stroke="#000" stroke-width="1.05" stroke-linejoin="round"/>
<polygon points="140.0,156.5 140.0,156.5 141.3,156.3 143.1,156.0 144.6,155.5 146.2,155.4 147.9,154.8 149.7,155.0 151.7,154.5 153.5,153.9 155.3,154.4 156.6,154.6 158.4,153.8 159.6,154.4 160.7,154.4 162.3,154.0 164.0,154.6 165.8,153.1 167.6,153.5 169.4,154.5 170.9,154.6 172.6,153.8 173.8,154.0 175.5,153.8 176.7,153.2 177.7,153.4 179.7,153.5 181.6,153.9 182.8,153.9 184.6,153.5 186.0,153.2 187.0,153.9 188.0,154.1 190.0,154.5 192.0,153.3 193.7,154.6 195.2,153.6 196.3,154.2 197.4,153.4 199.3,153.2 201.0,153.8 202.1,153.9 203.9,153.5 204.9,154.7 206.0,153.2 207.1,154.1 208.6,153.3 209.7,154.3 211.5,154.6 212.6,154.7 214.6,154.3 216.1,154.1 218.1,153.6 219.7,153.9 220.9,153.4 222.0,153.7 223.3,154.3 224.8,154.4 226.4,154.6 227.4,154.5 228.5,153.3 230.0,153.6 231.8,154.4 233.7,154.1 235.2,153.9 236.9,153.5 238.1,153.4 239.5,154.3 241.4,153.3 243.2,154.2 245.1,153.5 247.1,153.5 249.1,153.9 250.9,153.5 252.4,153.9 253.8,153.3 255.2,153.5 255.2,156.5" fill="#000" stroke="#000" stroke-width="0.8" stroke-linejoin="round"/>
<polyline points="132.0,156.2 133.2,155.8 134.6,152.4 136.2,155.0 137.4,155.6 139.0,154.1 140.3,154.9 141.5,153.7 143.5,154.8 144.6,153.7 146.5,155.0 147.7,153.9 149.6,153.3 151.4,155.0 153.2,152.6 154.9,152.6 156.6,154.9 158.6,153.9 159.8,153.7 161.6,154.1 162.9,153.4 164.4,153.1 165.6,153.0 167.3,152.1 169.0,154.1 170.3,153.6 171.6,154.0 172.8,153.1 174.4,153.8 175.7,152.3 177.4,154.3 178.5,154.2 180.1,153.2 182.0,152.7 183.8,153.5 185.7,152.4 187.6,153.8 188.7,153.3 190.2,152.5 191.3,154.9 193.3,153.1 195.2,154.0 196.7,152.4 198.2,154.2 199.4,152.4 201.2,154.6 202.3,153.3 203.8,154.5 205.0,152.3 206.6,152.3 208.4,153.6 209.9,152.5 211.5,153.3 212.6,153.1 214.4,154.6 216.2,154.3 217.3,153.5 218.6,153.2 220.1,154.4 221.7,153.9 223.2,154.0 224.7,154.2 226.7,152.9 228.2,152.9 230.0,155.0 231.6,152.8 233.5,153.8 234.8,152.9 236.1,153.6 237.5,154.4 238.7,154.1 240.2,152.3 241.7,154.5 242.8,155.1 244.6,154.3 245.8,154.3 247.7,154.8 249.2,154.7 251.2,154.6 253.1,152.4 255.1,154.8" fill="none" stroke="#000" stroke-width="1.3" stroke-linejoin="round"/>
<polyline points="138.0,154.3 139.5,155.7 140.8,155.7 142.7,154.6 144.5,153.6 145.6,153.0 147.1,152.2 149.0,151.7 150.9,153.6 152.8,152.6 154.0,149.9 155.1,153.3 156.5,153.9 158.1,151.8 159.8,152.4 161.6,152.9 163.1,154.2 164.7,153.0 165.9,153.8 167.7,153.2 169.3,151.9 171.3,152.9 172.5,151.4 174.3,153.4 176.2,153.6 178.0,153.0 179.5,153.1 181.2,151.1 182.6,152.6 184.6,151.7 186.4,153.6 187.5,154.2 189.4,150.8 190.8,154.0 192.7,151.4 194.2,152.1 195.6,151.8 197.5,152.5 199.4,153.5 201.0,153.8 202.4,148.3 204.4,153.0 205.8,151.6 207.1,152.7 208.2,153.0 210.2,152.7 211.6,151.6 212.7,151.4 214.4,150.1 215.5,154.0 216.9,153.2 218.4,151.8 219.6,152.5 221.5,154.1 223.0,151.7 224.8,152.5 226.6,152.7 227.9,151.9 229.5,153.8 230.9,152.2 232.6,153.7 234.1,152.2 235.8,151.9 237.3,151.4 238.4,153.3 239.6,154.0 240.8,151.3 242.2,154.0 243.3,152.3 244.5,153.2 245.8,151.3 247.6,152.2 249.1,152.9 250.3,154.2 251.4,152.8 252.9,152.5 254.6,152.7" fill="none" stroke="#000" stroke-width="1.2" stroke-linejoin="round"/>
<polyline points="146.0,156.2 147.3,155.8 148.8,155.8 150.1,155.5 152.0,155.3 153.4,155.0 155.1,153.6 156.4,151.0 157.9,155.0 159.1,154.7 160.2,151.8 162.1,155.4 163.4,154.5 165.1,153.9 166.4,154.2 167.9,153.8 169.6,153.3 171.4,155.2 172.5,153.3 174.1,154.6 175.3,154.4 176.9,153.7 178.4,154.1 179.9,154.7 181.1,154.3 183.0,155.0 184.4,151.3 185.7,154.5 187.7,154.0 188.9,155.1 190.7,155.5 192.1,153.5 194.1,154.5 195.5,154.0 197.2,150.3 198.6,154.0 200.2,153.1 202.1,153.5 203.4,153.8 204.6,153.4 205.9,155.2 207.4,155.4 208.5,154.8 210.0,152.8 211.9,153.6 213.9,153.3 215.3,154.1 217.3,153.0 218.5,154.0 219.6,153.2 221.3,153.5 222.7,154.2 224.4,153.0 225.5,155.2 227.5,153.6 229.0,153.9 230.5,154.5 232.0,154.0 233.2,154.9 234.4,154.4 235.9,153.7 237.5,153.1 239.2,154.7 240.8,151.0 242.7,155.0 244.1,155.1 245.9,153.8 247.3,153.3 248.6,153.9 250.5,154.5 252.1,153.0 253.5,153.9 255.1,154.8" fill="none" stroke="#000" stroke-width="1.4" stroke-linejoin="round"/>
<polyline points="150.0,156.2 151.3,155.8 153.0,155.4 154.3,154.1 156.2,154.2 158.1,153.7 159.6,150.8 161.3,148.4 163.2,150.6 164.9,151.3 166.4,153.9 168.3,152.3 169.4,150.7 170.7,152.9 172.1,152.4 173.9,153.7 175.7,152.8 176.9,152.2 178.6,153.9 180.3,153.4 181.6,152.4 183.5,151.8 185.1,153.9 186.3,151.3 188.2,153.1 190.1,153.0 191.9,152.4 193.5,148.4 195.1,154.0 196.5,152.7 197.7,151.7 199.5,153.0 201.5,151.0 202.9,153.5 204.4,148.7 205.5,152.2 206.9,153.8 208.1,153.1 209.5,151.0 211.5,153.6 212.7,151.5 214.1,150.8 215.6,153.6 217.2,152.7 218.8,150.8 220.5,151.7 221.6,153.5 223.4,151.5 224.8,147.8 226.6,153.4 228.3,152.4 230.2,152.4 231.4,152.0 232.6,151.4 234.2,153.9 235.9,154.0 237.6,152.9 238.8,151.2 240.7,152.5 241.9,153.2 243.2,153.6 245.0,151.5 246.5,152.2 248.0,153.0 249.9,151.6 251.3,152.1 253.1,153.1 254.4,154.0" fill="none" stroke="#000" stroke-width="1.1" stroke-linejoin="round"/>
<polyline points="136.0,156.2 137.2,156.0 138.9,155.6 140.9,154.2 142.5,155.0 144.3,153.9 145.7,154.6 147.0,152.8 148.7,153.0 150.0,153.0 151.6,151.7 153.5,152.7 154.6,152.9 155.7,154.5 157.5,153.4 158.7,153.1 159.9,154.5 161.4,152.0 162.5,152.1 164.1,152.2 165.8,152.4 167.2,151.7 168.5,154.6 170.1,152.2 172.0,154.2 174.0,153.3 175.6,154.5 177.4,153.8 178.8,152.6 179.9,154.0 181.6,152.6 183.0,152.1 184.5,152.0 185.8,152.1 187.0,152.4 188.8,152.3 190.2,152.2 191.4,153.9 192.8,154.0 194.0,151.7 195.4,151.9 197.0,152.5 198.3,153.0 199.5,153.4 201.1,152.2 202.2,153.5 203.9,152.1 205.1,154.7 206.6,154.3 207.9,154.3 209.9,152.8 211.1,151.6 212.7,152.6 214.4,152.8 215.8,153.4 217.5,149.9 219.2,153.0 220.7,153.8 222.1,152.9 223.5,152.9 225.4,151.6 227.3,153.9 228.5,152.6 230.2,152.0 231.4,152.9 232.8,153.7 234.5,153.3 235.8,154.6 237.1,153.5 238.7,151.9 240.3,154.2 242.0,152.8 243.8,153.4 245.7,154.1 247.2,149.7 248.8,151.9 250.0,152.1 251.1,153.3 252.9,152.6 254.6,152.6" fill="none" stroke="#000" stroke-width="1.2" stroke-linejoin="round"/>
<polyline points="33.2,156.0 34.0,156.2 34.8,155.6 35.6,154.6 36.4,154.6 37.2,154.3 38.0,154.9 38.8,155.8 39.6,156.1 40.4,155.7 41.2,155.8 42.0,156.0 42.8,155.6 43.6,156.0 44.4,156.2" fill="none" stroke="#000" stroke-width="1.4"/>
<line x1="28.60" y1="348.80" x2="28.60" y2="208.30" stroke="#c6c6c6" stroke-width="1" />
<line x1="26.10" y1="348.80" x2="28.60" y2="348.80" stroke="#c6c6c6" stroke-width="1" />
<text x="22.50" y="351.45" font-size="7.4" fill="#595959" text-anchor="end" stroke="#595959" stroke-width="0.18">0</text>
<line x1="26.10" y1="320.70" x2="28.60" y2="320.70" stroke="#c6c6c6" stroke-width="1" />
<text x="22.50" y="323.35" font-size="7.4" fill="#595959" text-anchor="end" stroke="#595959" stroke-width="0.18">20</text>
<line x1="26.10" y1="292.60" x2="28.60" y2="292.60" stroke="#c6c6c6" stroke-width="1" />
<text x="22.50" y="295.25" font-size="7.4" fill="#595959" text-anchor="end" stroke="#595959" stroke-width="0.18">40</text>
<line x1="26.10" y1="264.50" x2="28.60" y2="264.50" stroke="#c6c6c6" stroke-width="1" />
<text x="22.50" y="267.15" font-size="7.4" fill="#595959" text-anchor="end" stroke="#595959" stroke-width="0.18">60</text>
<line x1="26.10" y1="236.40" x2="28.60" y2="236.40" stroke="#c6c6c6" stroke-width="1" />
<text x="22.50" y="239.05" font-size="7.4" fill="#595959" text-anchor="end" stroke="#595959" stroke-width="0.18">80</text>
<line x1="26.10" y1="208.30" x2="28.60" y2="208.30" stroke="#c6c6c6" stroke-width="1" />
<text x="22.50" y="210.95" font-size="7.4" fill="#595959" text-anchor="end" stroke="#595959" stroke-width="0.18">100</text>
<line x1="28.60" y1="348.80" x2="265.00" y2="348.80" stroke="#c6c6c6" stroke-width="1" />
<line x1="28.60" y1="348.80" x2="28.60" y2="351.30" stroke="#c6c6c6" stroke-width="1" />
<line x1="87.70" y1="348.80" x2="87.70" y2="351.30" stroke="#c6c6c6" stroke-width="1" />
<line x1="146.80" y1="348.80" x2="146.80" y2="351.30" stroke="#c6c6c6" stroke-width="1" />
<line x1="205.90" y1="348.80" x2="205.90" y2="351.30" stroke="#c6c6c6" stroke-width="1" />
<line x1="265.00" y1="348.80" x2="265.00" y2="351.30" stroke="#c6c6c6" stroke-width="1" />
<text transform="translate(7.7,276.8) rotate(-90)" font-size="8.25" fill="#222" text-anchor="middle" stroke="#222" stroke-width="0.42">% P-selectin<tspan font-size="5.8" dy="-3.2">+</tspan><tspan dy="3.2"> cells</tspan></text>
<rect x="39.20" y="344.00" width="13.10" height="4.80" fill="#000"/>
<line x1="45.75" y1="344.00" x2="45.75" y2="341.00" stroke="#444" stroke-width="1.0" />
<line x1="43.85" y1="341.00" x2="47.65" y2="341.00" stroke="#222" stroke-width="1.1" />
<rect x="52.30" y="332.60" width="13.10" height="16.20" fill="#808080"/>
<line x1="58.85" y1="332.60" x2="58.85" y2="324.20" stroke="#444" stroke-width="1.0" />
<line x1="56.95" y1="324.20" x2="60.75" y2="324.20" stroke="#222" stroke-width="1.1" />
<rect x="65.40" y="324.00" width="13.10" height="24.80" fill="#c0c0c0"/>
<line x1="71.95" y1="324.00" x2="71.95" y2="305.30" stroke="#444" stroke-width="1.0" />
<line x1="70.05" y1="305.30" x2="73.85" y2="305.30" stroke="#222" stroke-width="1.1" />
<text transform="translate(58.85,366.08) scale(1.030,1.000)" font-size="8.6" fill="#2a2a2a" text-anchor="middle" stroke="#2a2a2a" stroke-width="0.2">control</text>
<rect x="98.00" y="256.00" width="13.10" height="92.80" fill="#000"/>
<line x1="104.55" y1="256.00" x2="104.55" y2="245.90" stroke="#444" stroke-width="1.0" />
<line x1="102.65" y1="245.90" x2="106.45" y2="245.90" stroke="#222" stroke-width="1.1" />
<rect x="111.10" y="286.70" width="13.10" height="62.10" fill="#808080"/>
<line x1="117.65" y1="286.70" x2="117.65" y2="263.50" stroke="#444" stroke-width="1.0" />
<line x1="115.75" y1="263.50" x2="119.55" y2="263.50" stroke="#222" stroke-width="1.1" />
<rect x="124.20" y="326.20" width="13.10" height="22.60" fill="#c0c0c0"/>
<line x1="130.75" y1="326.20" x2="130.75" y2="313.40" stroke="#444" stroke-width="1.0" />
<line x1="128.85" y1="313.40" x2="132.65" y2="313.40" stroke="#222" stroke-width="1.1" />
<text transform="translate(117.65,366.08) scale(0.800,1.000)" font-size="8.6" fill="#2a2a2a" text-anchor="middle" stroke="#2a2a2a" stroke-width="0.2">CRP-XL</text>
<rect x="156.10" y="256.60" width="13.10" height="92.20" fill="#000"/>
<line x1="162.65" y1="256.60" x2="162.65" y2="251.00" stroke="#444" stroke-width="1.0" />
<line x1="160.75" y1="251.00" x2="164.55" y2="251.00" stroke="#222" stroke-width="1.1" />
<rect x="169.20" y="292.70" width="13.10" height="56.10" fill="#808080"/>
<line x1="175.75" y1="292.70" x2="175.75" y2="263.20" stroke="#444" stroke-width="1.0" />
<line x1="173.85" y1="263.20" x2="177.65" y2="263.20" stroke="#222" stroke-width="1.1" />
<rect x="182.30" y="323.90" width="13.10" height="24.90" fill="#c0c0c0"/>
<line x1="188.85" y1="323.90" x2="188.85" y2="301.30" stroke="#444" stroke-width="1.0" />
<line x1="186.95" y1="301.30" x2="190.75" y2="301.30" stroke="#222" stroke-width="1.1" />
<text transform="translate(175.75,366.08) scale(0.950,1.000)" font-size="8.6" fill="#2a2a2a" text-anchor="middle" stroke="#2a2a2a" stroke-width="0.2">A23187</text>
<rect x="215.00" y="225.60" width="13.10" height="123.20" fill="#000"/>
<line x1="221.55" y1="225.60" x2="221.55" y2="223.20" stroke="#444" stroke-width="1.0" />
<line x1="219.65" y1="223.20" x2="223.45" y2="223.20" stroke="#222" stroke-width="1.1" />
<rect x="228.10" y="271.00" width="13.10" height="77.80" fill="#808080"/>
<line x1="234.65" y1="271.00" x2="234.65" y2="237.20" stroke="#444" stroke-width="1.0" />
<line x1="232.75" y1="237.20" x2="236.55" y2="237.20" stroke="#222" stroke-width="1.1" />
<rect x="241.20" y="317.50" width="13.10" height="31.30" fill="#c0c0c0"/>
<line x1="247.75" y1="317.50" x2="247.75" y2="298.00" stroke="#444" stroke-width="1.0" />
<line x1="245.85" y1="298.00" x2="249.65" y2="298.00" stroke="#222" stroke-width="1.1" />
<text transform="translate(234.65,366.08) scale(0.840,1.000)" font-size="8.6" fill="#2a2a2a" text-anchor="middle" stroke="#2a2a2a" stroke-width="0.2">TRAP</text>
<circle cx="248.10" cy="288.20" r="1.05" fill="#222"/>
<rect x="38.90" y="221.50" width="4.70" height="4.50" fill="#000"/>
<text transform="translate(45.90,226.27) scale(0.960,1.000)" font-size="6.9" fill="#595959" stroke="#595959" stroke-width="0.18">no ABT-263</text>
<rect x="38.90" y="236.00" width="4.70" height="4.50" fill="#808080"/>
<text transform="translate(45.90,240.77) scale(0.960,1.000)" font-size="6.9" fill="#595959" stroke="#595959" stroke-width="0.18">ABT-263 (0.1)</text>
<rect x="38.90" y="251.00" width="4.70" height="4.50" fill="#c0c0c0"/>
<text transform="translate(45.90,255.77) scale(0.960,1.000)" font-size="6.9" fill="#595959" stroke="#595959" stroke-width="0.18">ABT-263 (1)</text>
<line x1="304.00" y1="156.80" x2="304.00" y2="21.60" stroke="#c6c6c6" stroke-width="1" />
<line x1="301.50" y1="156.80" x2="304.00" y2="156.80" stroke="#c6c6c6" stroke-width="1" />
<text x="297.50" y="159.45" font-size="7.4" fill="#595959" text-anchor="end" stroke="#595959" stroke-width="0.18">0</text>
<line x1="301.50" y1="129.76" x2="304.00" y2="129.76" stroke="#c6c6c6" stroke-width="1" />
<text x="297.50" y="132.41" font-size="7.4" fill="#595959" text-anchor="end" stroke="#595959" stroke-width="0.18">20</text>
<line x1="301.50" y1="102.72" x2="304.00" y2="102.72" stroke="#c6c6c6" stroke-width="1" />
<text x="297.50" y="105.37" font-size="7.4" fill="#595959" text-anchor="end" stroke="#595959" stroke-width="0.18">40</text>
<line x1="301.50" y1="75.68" x2="304.00" y2="75.68" stroke="#c6c6c6" stroke-width="1" />
<text x="297.50" y="78.33" font-size="7.4" fill="#595959" text-anchor="end" stroke="#595959" stroke-width="0.18">60</text>
<line x1="301.50" y1="48.64" x2="304.00" y2="48.64" stroke="#c6c6c6" stroke-width="1" />
<text x="297.50" y="51.29" font-size="7.4" fill="#595959" text-anchor="end" stroke="#595959" stroke-width="0.18">80</text>
<line x1="301.50" y1="21.60" x2="304.00" y2="21.60" stroke="#c6c6c6" stroke-width="1" />
<text x="297.50" y="24.25" font-size="7.4" fill="#595959" text-anchor="end" stroke="#595959" stroke-width="0.18">100</text>
<line x1="304.00" y1="156.80" x2="518.60" y2="156.80" stroke="#c6c6c6" stroke-width="1" />
<line x1="304.00" y1="156.80" x2="304.00" y2="159.30" stroke="#c6c6c6" stroke-width="1" />
<line x1="375.53" y1="156.80" x2="375.53" y2="159.30" stroke="#c6c6c6" stroke-width="1" />
<line x1="447.07" y1="156.80" x2="447.07" y2="159.30" stroke="#c6c6c6" stroke-width="1" />
<line x1="518.60" y1="156.80" x2="518.60" y2="159.30" stroke="#c6c6c6" stroke-width="1" />
<text transform="translate(279.6,89.4) rotate(-90)" font-size="8.7" fill="#222" text-anchor="middle" stroke="#222" stroke-width="0.12">% fibrinogen binding</text>
<rect x="315.62" y="150.40" width="16.10" height="6.40" fill="#000"/>
<line x1="323.67" y1="150.40" x2="323.67" y2="148.30" stroke="#444" stroke-width="1.0" />
<line x1="321.77" y1="148.30" x2="325.57" y2="148.30" stroke="#222" stroke-width="1.1" />
<rect x="331.72" y="144.80" width="16.10" height="12.00" fill="#808080"/>
<line x1="339.77" y1="144.80" x2="339.77" y2="144.20" stroke="#444" stroke-width="1.0" />
<line x1="337.87" y1="144.20" x2="341.67" y2="144.20" stroke="#222" stroke-width="1.1" />
<rect x="347.82" y="145.30" width="16.10" height="11.50" fill="#c0c0c0"/>
<line x1="355.87" y1="145.30" x2="355.87" y2="141.80" stroke="#444" stroke-width="1.0" />
<line x1="353.97" y1="141.80" x2="357.77" y2="141.80" stroke="#222" stroke-width="1.1" />
<text transform="translate(339.77,174.08) scale(1.030,1.000)" font-size="8.6" fill="#2a2a2a" text-anchor="middle" stroke="#2a2a2a" stroke-width="0.2">control</text>
<rect x="387.15" y="47.10" width="16.10" height="109.70" fill="#000"/>
<line x1="395.20" y1="47.10" x2="395.20" y2="39.00" stroke="#444" stroke-width="1.0" />
<line x1="393.30" y1="39.00" x2="397.10" y2="39.00" stroke="#222" stroke-width="1.1" />
<rect x="403.25" y="71.00" width="16.10" height="85.80" fill="#808080"/>
<line x1="411.30" y1="71.00" x2="411.30" y2="64.00" stroke="#444" stroke-width="1.0" />
<line x1="409.40" y1="64.00" x2="413.20" y2="64.00" stroke="#222" stroke-width="1.1" />
<rect x="419.35" y="119.70" width="16.10" height="37.10" fill="#c0c0c0"/>
<line x1="427.40" y1="119.70" x2="427.40" y2="111.00" stroke="#444" stroke-width="1.0" />
<line x1="425.50" y1="111.00" x2="429.30" y2="111.00" stroke="#222" stroke-width="1.1" />
<text transform="translate(411.30,174.08) scale(0.800,1.000)" font-size="8.6" fill="#2a2a2a" text-anchor="middle" stroke="#2a2a2a" stroke-width="0.2">CRP-XL</text>
<rect x="458.68" y="57.80" width="16.10" height="99.00" fill="#000"/>
<line x1="466.73" y1="57.80" x2="466.73" y2="23.10" stroke="#444" stroke-width="1.0" />
<line x1="464.83" y1="23.10" x2="468.63" y2="23.10" stroke="#222" stroke-width="1.1" />
<rect x="474.78" y="85.30" width="16.10" height="71.50" fill="#808080"/>
<line x1="482.83" y1="85.30" x2="482.83" y2="69.70" stroke="#444" stroke-width="1.0" />
<line x1="480.93" y1="69.70" x2="484.73" y2="69.70" stroke="#222" stroke-width="1.1" />
<rect x="490.88" y="110.70" width="16.10" height="46.10" fill="#c0c0c0"/>
<line x1="498.93" y1="110.70" x2="498.93" y2="104.70" stroke="#444" stroke-width="1.0" />
<line x1="497.03" y1="104.70" x2="500.83" y2="104.70" stroke="#222" stroke-width="1.1" />
<text transform="translate(482.83,174.08) scale(0.840,1.000)" font-size="8.6" fill="#2a2a2a" text-anchor="middle" stroke="#2a2a2a" stroke-width="0.2">TRAP</text>
<circle cx="426.80" cy="102.30" r="1.05" fill="#222"/>
<rect x="314.20" y="36.60" width="4.60" height="4.30" fill="#000"/>
<text transform="translate(321.20,41.17) scale(0.960,1.000)" font-size="6.9" fill="#595959" stroke="#595959" stroke-width="0.18">no ABT-263</text>
<rect x="314.20" y="47.30" width="4.60" height="4.30" fill="#808080"/>
<text transform="translate(321.20,51.87) scale(0.960,1.000)" font-size="6.9" fill="#595959" stroke="#595959" stroke-width="0.18">ABT-263 (1)</text>
<rect x="314.20" y="58.10" width="4.60" height="4.30" fill="#c0c0c0"/>
<text transform="translate(321.20,62.67) scale(0.960,1.000)" font-size="6.9" fill="#595959" stroke="#595959" stroke-width="0.18">ABT-263 (10)</text>
<line x1="303.30" y1="346.00" x2="303.30" y2="204.40" stroke="#c6c6c6" stroke-width="1" />
<line x1="300.80" y1="346.00" x2="303.30" y2="346.00" stroke="#c6c6c6" stroke-width="1" />
<text x="297.00" y="348.65" font-size="7.4" fill="#595959" text-anchor="end" stroke="#595959" stroke-width="0.18">0</text>
<line x1="300.80" y1="317.68" x2="303.30" y2="317.68" stroke="#c6c6c6" stroke-width="1" />
<text x="297.00" y="320.33" font-size="7.4" fill="#595959" text-anchor="end" stroke="#595959" stroke-width="0.18">20</text>
<line x1="300.80" y1="289.36" x2="303.30" y2="289.36" stroke="#c6c6c6" stroke-width="1" />
<text x="297.00" y="292.01" font-size="7.4" fill="#595959" text-anchor="end" stroke="#595959" stroke-width="0.18">40</text>
<line x1="300.80" y1="261.04" x2="303.30" y2="261.04" stroke="#c6c6c6" stroke-width="1" />
<text x="297.00" y="263.69" font-size="7.4" fill="#595959" text-anchor="end" stroke="#595959" stroke-width="0.18">60</text>
<line x1="300.80" y1="232.72" x2="303.30" y2="232.72" stroke="#c6c6c6" stroke-width="1" />
<text x="297.00" y="235.37" font-size="7.4" fill="#595959" text-anchor="end" stroke="#595959" stroke-width="0.18">80</text>
<line x1="300.80" y1="204.40" x2="303.30" y2="204.40" stroke="#c6c6c6" stroke-width="1" />
<text x="297.00" y="207.05" font-size="7.4" fill="#595959" text-anchor="end" stroke="#595959" stroke-width="0.18">100</text>
<line x1="303.30" y1="346.00" x2="511.80" y2="346.00" stroke="#c6c6c6" stroke-width="1" />
<line x1="303.30" y1="346.00" x2="303.30" y2="348.50" stroke="#c6c6c6" stroke-width="1" />
<line x1="372.80" y1="346.00" x2="372.80" y2="348.50" stroke="#c6c6c6" stroke-width="1" />
<line x1="442.30" y1="346.00" x2="442.30" y2="348.50" stroke="#c6c6c6" stroke-width="1" />
<line x1="511.80" y1="346.00" x2="511.80" y2="348.50" stroke="#c6c6c6" stroke-width="1" />
<text transform="translate(279.6,275.2) rotate(-90)" font-size="8.5" fill="#222" text-anchor="middle" stroke="#222" stroke-width="0.12">% primary aggregation</text>
<rect x="312.75" y="343.50" width="12.65" height="2.50" fill="#000"/>
<line x1="319.07" y1="343.50" x2="319.07" y2="341.20" stroke="#444" stroke-width="1.0" />
<line x1="317.18" y1="341.20" x2="320.97" y2="341.20" stroke="#222" stroke-width="1.1" />
<rect x="325.40" y="346.00" width="12.65" height="0.00" fill="#808080"/>
<rect x="338.45" y="344.80" width="11.85" height="1.20" fill="#fff" stroke="#777" stroke-width="0.8"/>
<rect x="350.70" y="345.00" width="12.65" height="1.00" fill="#c0c0c0"/>
<line x1="357.02" y1="345.00" x2="357.02" y2="344.00" stroke="#444" stroke-width="1.0" />
<line x1="355.12" y1="344.00" x2="358.92" y2="344.00" stroke="#222" stroke-width="1.1" />
<text transform="translate(338.05,364.08) scale(1.030,1.000)" font-size="8.6" fill="#2a2a2a" text-anchor="middle" stroke="#2a2a2a" stroke-width="0.2">control</text>
<rect x="382.25" y="251.20" width="12.65" height="94.80" fill="#000"/>
<line x1="388.57" y1="251.20" x2="388.57" y2="224.00" stroke="#444" stroke-width="1.0" />
<line x1="386.68" y1="224.00" x2="390.47" y2="224.00" stroke="#222" stroke-width="1.1" />
<rect x="394.90" y="258.30" width="12.65" height="87.70" fill="#808080"/>
<line x1="401.22" y1="258.30" x2="401.22" y2="214.20" stroke="#444" stroke-width="1.0" />
<line x1="399.32" y1="214.20" x2="403.12" y2="214.20" stroke="#222" stroke-width="1.1" />
<rect x="407.95" y="302.60" width="11.85" height="43.40" fill="#fff" stroke="#777" stroke-width="0.8"/>
<line x1="413.88" y1="302.60" x2="413.88" y2="284.00" stroke="#444" stroke-width="1.0" />
<line x1="411.98" y1="284.00" x2="415.77" y2="284.00" stroke="#222" stroke-width="1.1" />
<rect x="420.20" y="337.90" width="12.65" height="8.10" fill="#c0c0c0"/>
<line x1="426.52" y1="337.90" x2="426.52" y2="329.80" stroke="#444" stroke-width="1.0" />
<line x1="424.62" y1="329.80" x2="428.42" y2="329.80" stroke="#222" stroke-width="1.1" />
<text transform="translate(407.55,364.08) scale(0.800,1.000)" font-size="8.6" fill="#2a2a2a" text-anchor="middle" stroke="#2a2a2a" stroke-width="0.2">CRP-XL</text>
<rect x="451.75" y="266.40" width="12.65" height="79.60" fill="#000"/>
<line x1="458.07" y1="266.40" x2="458.07" y2="243.50" stroke="#444" stroke-width="1.0" />
<line x1="456.18" y1="243.50" x2="459.97" y2="243.50" stroke="#222" stroke-width="1.1" />
<rect x="464.40" y="259.90" width="12.65" height="86.10" fill="#808080"/>
<line x1="470.72" y1="259.90" x2="470.72" y2="230.20" stroke="#444" stroke-width="1.0" />
<line x1="468.82" y1="230.20" x2="472.62" y2="230.20" stroke="#222" stroke-width="1.1" />
<rect x="477.45" y="302.00" width="11.85" height="44.00" fill="#fff" stroke="#777" stroke-width="0.8"/>
<line x1="483.38" y1="302.00" x2="483.38" y2="279.50" stroke="#444" stroke-width="1.0" />
<line x1="481.48" y1="279.50" x2="485.27" y2="279.50" stroke="#222" stroke-width="1.1" />
<rect x="489.70" y="339.60" width="12.65" height="6.40" fill="#c0c0c0"/>
<line x1="496.02" y1="339.60" x2="496.02" y2="336.40" stroke="#444" stroke-width="1.0" />
<line x1="494.12" y1="336.40" x2="497.92" y2="336.40" stroke="#222" stroke-width="1.1" />
<text transform="translate(477.05,364.08) scale(0.840,1.000)" font-size="8.6" fill="#2a2a2a" text-anchor="middle" stroke="#2a2a2a" stroke-width="0.2">TRAP</text>
<circle cx="426.60" cy="322.20" r="1.05" fill="#222"/>
<circle cx="495.70" cy="325.20" r="1.05" fill="#222"/>
<rect x="315.70" y="204.60" width="4.60" height="4.40" fill="#000"/>
<text transform="translate(322.70,209.27) scale(0.960,1.000)" font-size="6.9" fill="#595959" stroke="#595959" stroke-width="0.18">no ABT-263</text>
<rect x="315.70" y="217.10" width="4.60" height="4.40" fill="#808080"/>
<text transform="translate(322.70,221.77) scale(0.960,1.000)" font-size="6.9" fill="#595959" stroke="#595959" stroke-width="0.18">ABT-263 (1)</text>
<rect x="316.00" y="229.20" width="4.40" height="4.40" fill="#fff" stroke="#666" stroke-width="0.75"/>
<text transform="translate(322.70,233.77) scale(0.960,1.000)" font-size="6.9" fill="#595959" stroke="#595959" stroke-width="0.18">ABT-263 (3)</text>
<rect x="315.70" y="241.50" width="4.60" height="4.40" fill="#c0c0c0"/>
<text transform="translate(322.70,246.17) scale(0.960,1.000)" font-size="6.9" fill="#595959" stroke="#595959" stroke-width="0.18">ABT-263 (10)</text>
</svg>
</body></html>
